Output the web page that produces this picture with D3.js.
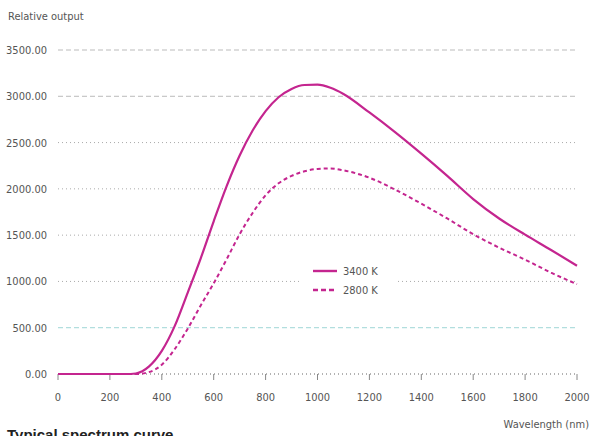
<!DOCTYPE html>
<html>
<head>
<meta charset="utf-8">
<script src="https://cdn.jsdelivr.net/npm/d3@7"></script>
<style>
  body { margin: 0; background: #fff; }
  svg { display: block; }
  .lbl { font-family: "Liberation Sans Narrow", "DejaVu Sans Condensed", sans-serif; fill: #555; font-size: 11px; }
</style>
</head>
<body>
<svg id="chart" width="591" height="436"></svg>
<script>
// wavelengths (nm) and relative output
var wavelength = [0, 100, 200, 280, 300, 350, 400, 450, 500, 550, 600, 650, 700, 750, 800, 850, 900, 950, 1000, 1050, 1100, 1200, 1300, 1400, 1500, 1600, 1700, 1800, 1900, 2000];
var out3400 = [0, 0, 0, 0, 5, 80, 250, 520, 880, 1250, 1650, 2030, 2360, 2630, 2840, 2990, 3080, 3122, 3125, 3092, 3025, 2825, 2610, 2380, 2140, 1890, 1680, 1505, 1340, 1170];
var out2800 = [0, 0, 0, 0, 0, 20, 100, 270, 490, 740, 980, 1240, 1510, 1740, 1930, 2060, 2140, 2190, 2215, 2220, 2200, 2120, 1990, 1840, 1680, 1510, 1365, 1235, 1095, 970];
var xTicks = [0, 200, 400, 600, 800, 1000, 1200, 1400, 1600, 1800, 2000];
var yTicks = [0, 500, 1000, 1500, 2000, 2500, 3000, 3500];
var seriesNames = ["3400 K", "2800 K"];

var svg = d3.select("#chart");
var color = "#c4258f";

var x = d3.scaleLinear().domain([0, 2000]).range([58, 577]);
var y = d3.scaleLinear().domain([0, 3500]).range([374, 50]);

// gridlines, each row has its own style
function gridStyle(v) {
  if (v === 0) return { stroke: "#666", dash: "1,3" };
  if (v === 500) return { stroke: "#9fd6d6", dash: "5,3" };
  if (v >= 3000) return { stroke: "#bbb", dash: "5,3" };
  return { stroke: "#aaa", dash: "1,3" };
}

svg.append("g").selectAll("line")
    .data(yTicks)
  .enter().append("line")
    .attr("x1", x(0))
    .attr("x2", x(2000))
    .attr("y1", function(d) { return y(d); })
    .attr("y2", function(d) { return y(d); })
    .attr("stroke", function(d) { return gridStyle(d).stroke; })
    .attr("stroke-dasharray", function(d) { return gridStyle(d).dash; })
    .attr("stroke-width", 1);

// y labels
svg.append("g").selectAll("text")
    .data(yTicks)
  .enter().append("text")
    .attr("class", "lbl")
    .attr("x", 47)
    .attr("y", function(d) { return y(d) + 4; })
    .attr("text-anchor", "end")
    .text(function(d) { return d3.format(".2f")(d); });

// x ticks and labels
var xAxis = svg.append("g");
xAxis.selectAll("line")
    .data(xTicks)
  .enter().append("line")
    .attr("x1", function(d) { return x(d); })
    .attr("x2", function(d) { return x(d); })
    .attr("y1", y(0))
    .attr("y2", y(0) + 6)
    .attr("stroke", "#888");

xAxis.selectAll("text")
    .data(xTicks)
  .enter().append("text")
    .attr("class", "lbl")
    .attr("x", function(d) { return x(d); })
    .attr("y", 401)
    .attr("text-anchor", "middle")
    .text(function(d) { return d; });

// curves
var line = d3.line()
    .x(function(d, i) { return x(wavelength[i]); })
    .y(function(d) { return y(d); })
    .curve(d3.curveMonotoneX);

svg.append("path")
    .datum(out2800)
    .attr("d", line)
    .attr("fill", "none")
    .attr("stroke", color)
    .attr("stroke-width", 2)
    .attr("stroke-dasharray", "4,3");

svg.append("path")
    .datum(out3400)
    .attr("d", line)
    .attr("fill", "none")
    .attr("stroke", color)
    .attr("stroke-width", 2.2);

// legend
var legend = svg.append("g");
legend.append("rect")
    .attr("x", 300).attr("y", 262)
    .attr("width", 96).attr("height", 38)
    .attr("fill", "#fff");

var lg = legend.selectAll("g")
    .data(seriesNames)
  .enter().append("g")
    .attr("transform", function(d, i) { return "translate(313," + (271 + i * 19) + ")"; });

lg.append("line")
    .attr("x1", 0).attr("x2", 24)
    .attr("stroke", color)
    .attr("stroke-width", 2.4)
    .attr("stroke-dasharray", function(d, i) { return i ? "5,3" : null; });

lg.append("text")
    .attr("class", "lbl")
    .attr("x", 30)
    .attr("y", 4)
    .text(function(d) { return d; });

// axis titles
svg.append("text")
    .attr("class", "lbl")
    .attr("x", 8).attr("y", 20)
    .text("Relative output");

svg.append("text")
    .attr("class", "lbl")
    .attr("x", 589).attr("y", 428)
    .attr("text-anchor", "end")
    .text("Wavelength (nm)");

// title sits partly below the bottom edge, as in the original
svg.append("text")
    .attr("x", 7).attr("y", 440)
    .attr("font-family", "Liberation Sans, Arial, sans-serif")
    .attr("font-weight", "bold")
    .attr("font-size", 15)
    .attr("fill", "#222")
    .text("Typical spectrum curve");
</script>
</body>
</html>
